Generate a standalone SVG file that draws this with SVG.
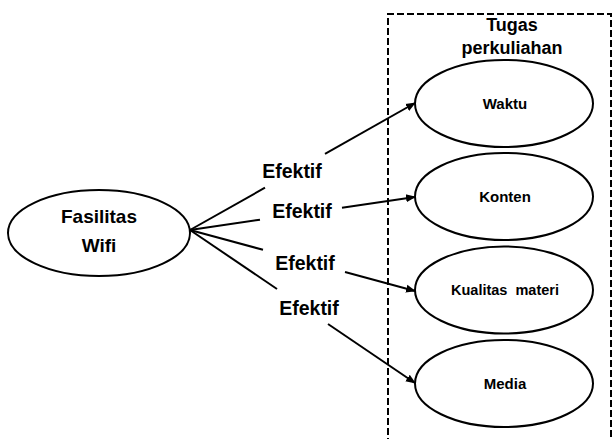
<svg xmlns="http://www.w3.org/2000/svg" width="614" height="439" viewBox="0 0 614 439">
<style>
.node ellipse{fill:#fff;stroke:#000;stroke-width:2}
.lbl{font-family:"Liberation Sans",Arial,sans-serif;font-weight:bold;fill:#000;text-anchor:middle}
.conn line{stroke:#000;stroke-width:2}
</style>
<defs>
<marker id="ah" viewBox="0 0 10 10" refX="9" refY="5" markerWidth="5" markerHeight="5" orient="auto" markerUnits="strokeWidth">
<path d="M0,1 L10,5 L0,9 z" fill="#000"/>
</marker>
</defs>
<rect width="614" height="439" fill="#fff"/>
<g id="group-box">
<path d="M388,445 V14 H611 V445" fill="none" stroke="#000" stroke-width="2" stroke-dasharray="7,3"/>
<text class="lbl" x="512" y="31" font-size="18">Tugas</text>
<text class="lbl" x="512" y="54" font-size="18">perkuliahan</text>
</g>
<g id="connectors" class="conn">
<line x1="190" y1="230" x2="265" y2="187.7"/>
<line x1="325" y1="153.8" x2="415" y2="103" marker-end="url(#ah)"/>
<line x1="190" y1="230" x2="260" y2="219.7"/>
<line x1="342" y1="207.7" x2="415" y2="197" marker-end="url(#ah)"/>
<line x1="190" y1="230" x2="263" y2="249.8"/>
<line x1="345" y1="272" x2="415" y2="291" marker-end="url(#ah)"/>
<line x1="190" y1="230" x2="277" y2="289"/>
<line x1="328" y1="324" x2="415" y2="383" marker-end="url(#ah)"/>
<text class="lbl" x="292" y="178" font-size="19.5">Efektif</text>
<text class="lbl" x="302" y="218" font-size="19.5">Efektif</text>
<text class="lbl" x="305" y="270" font-size="19.5">Efektif</text>
<text class="lbl" x="309" y="315" font-size="19.5">Efektif</text>
</g>
<g id="fasilitas-wifi" class="node">
<ellipse cx="99" cy="233" rx="91" ry="43"/>
<text class="lbl" x="99" y="223" font-size="19">Fasilitas</text>
<text class="lbl" x="99" y="252" font-size="19">Wifi</text>
</g>
<g id="waktu" class="node">
<ellipse cx="504" cy="103.5" rx="89" ry="43.5"/>
<text class="lbl" x="505" y="109" font-size="15">Waktu</text>
</g>
<g id="konten" class="node">
<ellipse cx="504" cy="196.5" rx="89" ry="43.5"/>
<text class="lbl" x="505" y="202" font-size="15">Konten</text>
</g>
<g id="kualitas-materi" class="node">
<ellipse cx="504" cy="290" rx="89" ry="43.5"/>
<text class="lbl" x="505" y="295" font-size="14.5" xml:space="preserve">Kualitas  materi</text>
</g>
<g id="media" class="node">
<ellipse cx="504" cy="383.5" rx="89" ry="43.5"/>
<text class="lbl" x="505" y="389" font-size="15">Media</text>
</g>
</svg>
